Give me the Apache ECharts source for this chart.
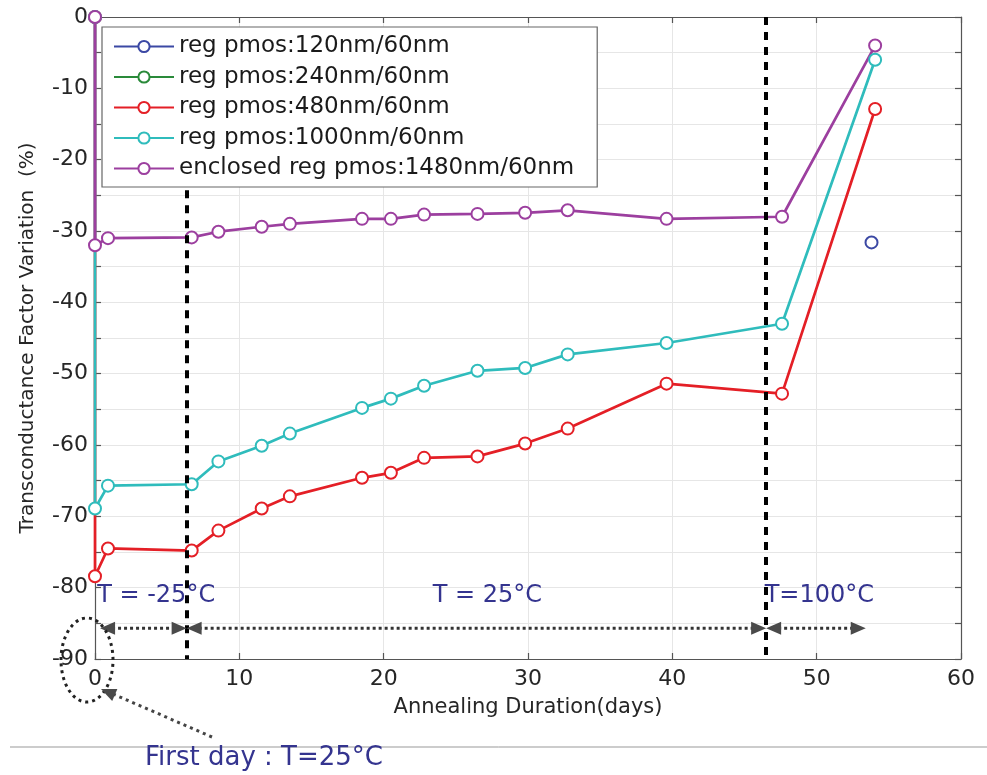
<!DOCTYPE html>
<html>
<head>
<meta charset="utf-8">
<script src="https://cdn.jsdelivr.net/npm/echarts@6/dist/echarts.min.js"></script>
<style>
html,body{margin:0;padding:0;background:#fff;}
#c{width:987px;height:775px;}
</style>
</head>
<body>
<div id="c"></div>
<script>
// ---- data ----
const seriesNames = ['reg pmos:120nm/60nm','reg pmos:240nm/60nm','reg pmos:480nm/60nm','reg pmos:1000nm/60nm','enclosed reg pmos:1480nm/60nm'];
const days = [0, 0, 0.9, 6.7, 8.55, 11.55, 13.5, 18.5, 20.5, 22.8, 26.5, 29.8, 32.75, 39.6, 47.6, 54.05];
const blueVals = [[53.8, -31.6]];
const greenVals = [];
const redVals = [0, -78.4, -74.5, -74.8, -72.0, -68.9, -67.2, -64.6, -63.9, -61.8, -61.6, -59.8, -57.7, -51.4, -52.8, -12.9];
const cyanVals = [0, -68.9, -65.7, -65.5, -62.3, -60.1, -58.4, -54.8, -53.5, -51.7, -49.6, -49.2, -47.3, -45.7, -43.0, -6.0];
const purpleVals = [0, -32.0, -31.0, -30.9, -30.1, -29.4, -29.0, -28.3, -28.3, -27.7, -27.6, -27.45, -27.1, -28.3, -28.0, -4.0];
// phase boundaries: [day, top value of dashed line]
const phaseBounds = [[6.35, -24.3], [46.5, 0]];
const phaseLabels = [
  {text: 'T = -25°C', x: 0.15},
  {text: 'T = 25°C', x: 23.4},
  {text: 'T=100°C', x: 46.4}
];
const phaseLabelY = -81.1;
const arrowSegs = [[0.35, 6.35], [6.35, 46.5], [46.5, 53.4]];
const arrowY = -85.7;
const xTicks = {min: 0, max: 60, interval: 10};
const yTicks = {min: -90, max: 0, interval: 5};

const colors = ['#3b48a4', '#2a8a3a', '#e41f26', '#2fbcbc', '#9c3f9f'];
const pair = vals => vals.map((v, i) => [days[i], v]);
const datasets = [blueVals, greenVals, pair(redVals), pair(cyanVals), pair(purpleVals)];

const chart = echarts.init(document.getElementById('c'), null, {renderer: 'canvas'});
const FONT = 'DejaVu Sans';
const axisFont = {fontFamily: FONT, fontSize: 22, color: '#262626'};
const axisLine = {show: true, onZero: false, lineStyle: {color: '#555', width: 1.2}};
const tick = {show: true, inside: true, length: 6, lineStyle: {color: '#555', width: 1.2}};

const series = datasets.map((d, i) => ({
  name: seriesNames[i],
  type: 'line',
  data: d,
  symbol: 'emptyCircle',
  symbolSize: 12,
  showAllSymbol: true,
  lineStyle: {width: 2.7, color: colors[i]},
  itemStyle: {color: colors[i], borderWidth: 2.2},
  emphasis: {disabled: true},
  animation: false,
  silent: true
}));
series[4].markLine = {
  silent: true,
  symbol: 'none',
  label: {show: false},
  lineStyle: {color: '#000', width: 4, type: [8, 7]},
  data: phaseBounds.map(b => [{coord: [b[0], b[1]]}, {coord: [b[0], yTicks.min]}]),
  animation: false
};

const option = {
  backgroundColor: '#fff',
  animation: false,
  grid: {left: 95, right: 26, top: 17, bottom: 116, containLabel: false},
  legend: {
    z: 10,
    left: 102, top: 27, orient: 'vertical',
    padding: [8, 23, 7, 11],
    itemWidth: 60, itemHeight: 14, itemGap: 7.5,
    backgroundColor: '#fff', borderColor: '#666', borderWidth: 1.2,
    textStyle: {fontFamily: FONT, fontSize: 23, lineHeight: 22, color: '#1a1a1a'},
    data: seriesNames
  },
  xAxis: [{
    type: 'value', position: 'bottom', min: xTicks.min, max: xTicks.max, interval: xTicks.interval,
    name: 'Annealing Duration(days)', nameLocation: 'middle', nameGap: 38,
    nameTextStyle: {fontFamily: FONT, fontSize: 21, color: '#262626'},
    axisLine: axisLine,
    axisTick: tick,
    axisLabel: Object.assign({margin: 9}, axisFont),
    splitLine: {show: true, lineStyle: {color: '#e6e6e6', width: 1}}
  }, {
    type: 'value', position: 'top', min: xTicks.min, max: xTicks.max, interval: xTicks.interval,
    axisLine: axisLine,
    axisTick: tick,
    axisLabel: {show: false}, splitLine: {show: false}
  }],
  yAxis: [{
    type: 'value', position: 'left', min: yTicks.min, max: yTicks.max, interval: yTicks.interval,
    name: 'Transconductance Factor Variation  (%)', nameLocation: 'middle', nameGap: 57,
    nameTextStyle: {fontFamily: FONT, fontSize: 20, color: '#262626'},
    axisLine: axisLine,
    axisTick: tick,
    axisLabel: Object.assign({margin: 7, formatter: v => (v % 10 === 0 ? String(v) : '')}, axisFont),
    splitLine: {show: true, lineStyle: {color: '#e6e6e6', width: 1}}
  }, {
    type: 'value', position: 'right', min: yTicks.min, max: yTicks.max, interval: yTicks.interval,
    axisLine: axisLine,
    axisTick: tick,
    axisLabel: {show: false}, splitLine: {show: false}
  }],
  series: series
};
chart.setOption(option);

// ---- annotations ----
const px = (x, y) => chart.convertToPixel({xAxisIndex: 0, yAxisIndex: 0}, [x, y]);
const navy = '#34348f';
const g = [];
phaseLabels.forEach(p => {
  const [x, y] = px(p.x, phaseLabelY);
  g.push({type: 'text', x: x, y: y, z: 100, style: {text: p.text, fill: navy, font: '24px "' + FONT + '"', textAlign: 'left', textVerticalAlign: 'middle'}});
});
const arrowColor = '#4a4a4a';
function head(tx, ty, dx, dy, len, hw) {
  const n = Math.hypot(dx, dy); const ux = dx / n, uy = dy / n;
  const bx = tx - ux * len, by = ty - uy * len;
  return {type: 'polygon', z: 100, shape: {points: [[tx, ty], [bx - uy * hw, by + ux * hw], [bx + uy * hw, by - ux * hw]]}, style: {fill: arrowColor}};
}
arrowSegs.forEach(s => {
  const [x1, y1] = px(s[0], arrowY);
  const [x2] = px(s[1], arrowY);
  g.push({type: 'line', z: 99, shape: {x1: x1 + 12, y1: y1, x2: x2 - 12, y2: y1}, style: {stroke: '#333', lineWidth: 3, lineDash: [3, 3]}});
  g.push(head(x1, y1, -1, 0, 15, 6.5));
  g.push(head(x2, y1, 1, 0, 15, 6.5));
});
// first-day ellipse and pointer
const [ox, oy] = px(0, -90);
g.push({type: 'ellipse', z: 100, shape: {cx: ox - 8, cy: oy + 1, rx: 26, ry: 42}, style: {fill: null, stroke: '#222', lineWidth: 3, lineDash: [3, 4]}});
const p1 = [ox + 117, oy + 78], p2 = [ox + 6, oy + 30];
g.push({type: 'line', z: 100, shape: {x1: p1[0], y1: p1[1], x2: p2[0] + 12, y2: p2[1] + 5}, style: {stroke: '#444', lineWidth: 3, lineDash: [3, 4]}});
g.push(head(p2[0], p2[1], p2[0] - p1[0], p2[1] - p1[1], 15, 6.5));
g.push({type: 'line', z: 100, shape: {x1: 10, y1: 747, x2: 987, y2: 747}, style: {stroke: '#999', lineWidth: 1}});
g.push({type: 'text', z: 100, x: 145, y: 758, style: {text: 'First day : T=25°C', fill: navy, font: '26px "' + FONT + '"', textAlign: 'left', textVerticalAlign: 'middle'}});
chart.setOption({graphic: g});
</script>
</body>
</html>
